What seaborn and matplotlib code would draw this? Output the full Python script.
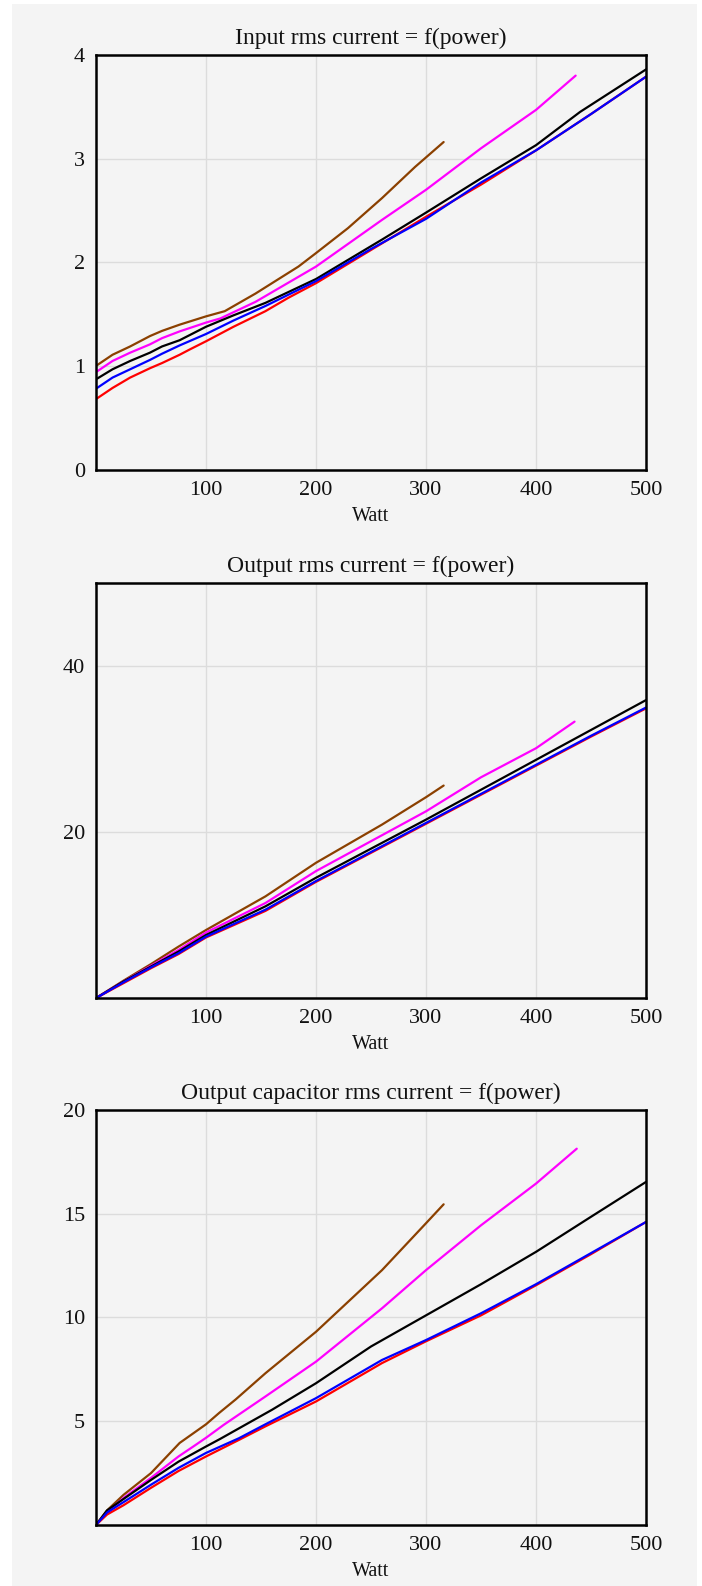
import numpy as np
import pandas as pd
import matplotlib
matplotlib.use("Agg")
import matplotlib.pyplot as plt
import seaborn as sns
from matplotlib.patches import Rectangle

# ---------------- data ----------------
series_names = ["red", "blue", "black", "magenta", "brown"]
series_colors = {"red": "#ff0000", "blue": "#0000ff", "black": "#000000",
                 "magenta": "#ff00ff", "brown": "#8b4000"}

# Panel 1: input rms current (A) vs power (W)
p1_red = [1, 15, 31, 49, 60, 76, 85, 100, 125, 154, 175, 200, 250, 300, 350, 400, 450, 500]
in_red = [0.69, 0.79, 0.89, 0.98, 1.03, 1.11, 1.16, 1.24, 1.38, 1.53, 1.66, 1.80, 2.12, 2.44, 2.75, 3.08, 3.43, 3.79]
p1_blue = [1, 15, 31, 49, 60, 76, 100, 125, 154, 200, 250, 300, 350, 400, 450, 500]
in_blue = [0.79, 0.89, 0.97, 1.06, 1.12, 1.20, 1.31, 1.44, 1.58, 1.82, 2.13, 2.42, 2.77, 3.08, 3.43, 3.79]
p1_black = [1, 15, 31, 49, 60, 76, 100, 125, 154, 200, 260, 300, 350, 400, 440, 500]
in_black = [0.88, 0.97, 1.05, 1.13, 1.19, 1.25, 1.38, 1.49, 1.61, 1.84, 2.22, 2.48, 2.81, 3.13, 3.45, 3.86]
p1_mag = [1, 15, 31, 49, 60, 76, 100, 113, 145, 200, 260, 300, 350, 400, 436]
in_mag = [0.95, 1.05, 1.13, 1.21, 1.27, 1.335, 1.42, 1.46, 1.62, 1.96, 2.41, 2.70, 3.10, 3.47, 3.80]
p1_brown = [1, 15, 31, 49, 60, 76, 100, 117, 145, 184, 200, 229, 260, 290, 316]
in_brown = [1.01, 1.11, 1.19, 1.29, 1.34, 1.40, 1.48, 1.53, 1.70, 1.96, 2.09, 2.33, 2.62, 2.92, 3.16]

# Panel 2: output rms current (A) vs power (W)
p2_long = [0, 25, 50, 75, 100, 154, 200, 250, 300, 350, 400, 450, 500]
out_red = [0.0, 1.8, 3.6, 5.3, 7.3, 10.5, 14.0, 17.5, 21.0, 24.5, 28.0, 31.5, 34.9]
out_blue = [0.0, 1.9, 3.7, 5.4, 7.4, 10.65, 14.1, 17.6, 21.1, 24.6, 28.1, 31.6, 35.0]
out_black = [0.0, 2.0, 3.8, 5.6, 7.6, 11.05, 14.5, 18.0, 21.5, 25.1, 28.7, 32.3, 35.9]
p2_mag = [0, 25, 50, 75, 100, 154, 200, 250, 300, 350, 400, 435]
out_mag = [0.0, 2.0, 3.9, 5.8, 7.9, 11.45, 15.3, 18.9, 22.5, 26.6, 30.1, 33.3]
p2_brown = [0, 25, 50, 75, 100, 154, 200, 260, 300, 316]
out_brown = [0.0, 2.1, 4.1, 6.2, 8.2, 12.25, 16.3, 20.9, 24.2, 25.6]

# Panel 3: output capacitor rms current (A) vs power (W)
p3_red = [0, 10, 25, 50, 75, 100, 130, 154, 200, 260, 300, 350, 400, 450, 500]
cap_red = [0.0, 0.5, 0.95, 1.79, 2.6, 3.3, 4.1, 4.75, 5.95, 7.8, 8.85, 10.1, 11.55, 13.05, 14.6]
p3_blue = [0, 10, 25, 50, 75, 100, 130, 154, 200, 260, 300, 350, 400, 450, 500]
cap_blue = [0.0, 0.6, 1.1, 1.94, 2.75, 3.47, 4.18, 4.85, 6.11, 7.95, 8.91, 10.2, 11.6, 13.1, 14.6]
p3_black = [0, 10, 25, 50, 75, 100, 113, 160, 200, 250, 300, 350, 400, 450, 500]
cap_black = [0.0, 0.7, 1.25, 2.17, 3.05, 3.78, 4.15, 5.55, 6.83, 8.6, 10.1, 11.6, 13.16, 14.85, 16.53]
p3_mag = [0, 10, 25, 50, 75, 89, 100, 116, 154, 200, 260, 300, 350, 400, 437]
cap_mag = [0.0, 0.6, 1.3, 2.27, 3.3, 3.8, 4.2, 4.82, 6.19, 7.87, 10.44, 12.28, 14.44, 16.45, 18.13]
p3_brown = [0, 10, 25, 50, 76, 100, 112, 127, 154, 200, 260, 300, 316]
cap_brown = [0.0, 0.7, 1.45, 2.5, 3.95, 4.85, 5.4, 6.05, 7.31, 9.31, 12.28, 14.54, 15.45]

titles = ["Input rms current = f(power)", "Output rms current = f(power)",
          "Output capacitor rms current = f(power)"]
x_label = "Watt"
x_ticks = [100, 200, 300, 400, 500]
y_ticks = [[0, 1, 2, 3, 4], [20, 40], [5, 10, 15, 20]]
y_lims = [(0, 4), (0, 50), (0, 20)]


def frame(xs_list, ys_list):
    rows = []
    for name, xs, ys in zip(series_names, xs_list, ys_list):
        for x, y in zip(xs, ys):
            rows.append({"P": x, "I": y, "s": name})
    return pd.DataFrame(rows)


dfs = [
    frame([p1_red, p1_blue, p1_black, p1_mag, p1_brown], [in_red, in_blue, in_black, in_mag, in_brown]),
    frame([p2_long, p2_long, p2_long, p2_mag, p2_brown], [out_red, out_blue, out_black, out_mag, out_brown]),
    frame([p3_red, p3_blue, p3_black, p3_mag, p3_brown], [cap_red, cap_blue, cap_black, cap_mag, cap_brown]),
]

# ---------------- style ----------------
sns.set_theme(style="whitegrid")
plt.rcParams["font.family"] = ["Liberation Serif", "DejaVu Serif"]
bg = "#f4f4f4"

fig = plt.figure(figsize=(7.02, 15.86), dpi=100, facecolor="white")
fig.patches.append(Rectangle((12 / 702, 0), 685 / 702, 1 - 4 / 1586, transform=fig.transFigure,
                             facecolor=bg, edgecolor="none", zorder=-10))

positions = [
    [0.1368, 0.7037, 0.7835, 0.2617],
    [0.1368, 0.3707, 0.7835, 0.2617],
    [0.1368, 0.0385, 0.7835, 0.2617],
]

for i, df in enumerate(dfs):
    ax = fig.add_axes(positions[i])
    ax.set_facecolor(bg)
    for name in ["brown", "magenta", "black", "red", "blue"]:
        sub = df[df["s"] == name]
        sns.lineplot(data=sub, x="P", y="I", ax=ax, color=series_colors[name],
                     linewidth=1.6, sort=False, legend=False, estimator=None)
    ax.set_xlim(0, 500)
    ax.set_ylim(*y_lims[i])
    ax.set_xticks(x_ticks)
    ax.set_yticks(y_ticks[i])
    ax.set_xticklabels([str(t) for t in x_ticks])
    ax.set_yticklabels([str(t) for t in y_ticks[i]])
    ax.tick_params(axis="both", length=0, labelsize=16, colors="#111111")
    ax.tick_params(axis="x", pad=8)
    ax.tick_params(axis="y", pad=8)
    ax.grid(True, color="#dcdcdc", linewidth=1)
    for s in ax.spines.values():
        s.set_visible(True)
        s.set_color("black")
        s.set_linewidth(1.8)
    ax.set_title(titles[i], fontsize=17, color="#111111", pad=8)
    ax.set_xlabel(x_label, fontsize=14.5, color="#111111", labelpad=5)
    ax.set_ylabel("")

fig.savefig("out.png", dpi=100, facecolor="white")
